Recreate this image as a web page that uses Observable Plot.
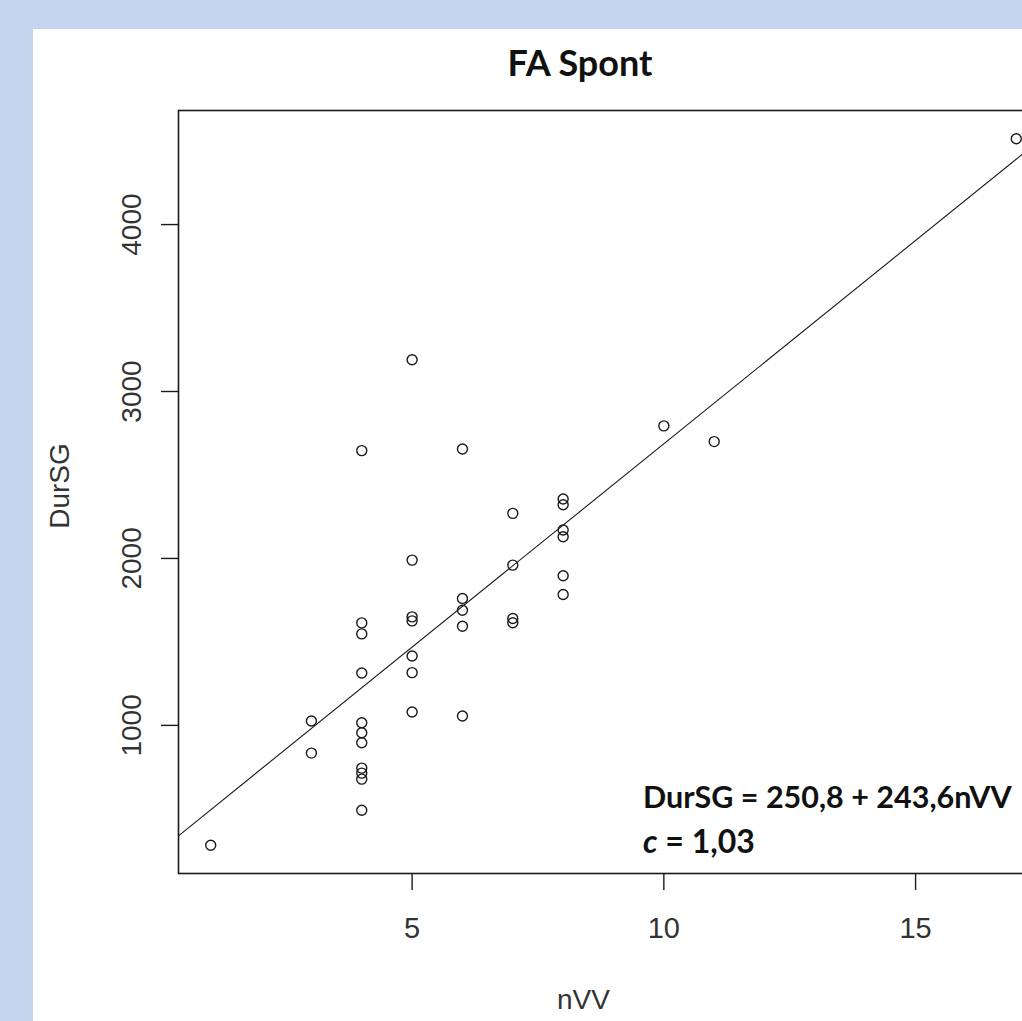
<!DOCTYPE html>
<html>
<head>
<meta charset="utf-8">
<script src="https://cdn.jsdelivr.net/npm/d3@7"></script>
<script src="https://cdn.jsdelivr.net/npm/@observablehq/plot@0.6"></script>
<style>
  html, body { margin: 0; padding: 0; }
  body { width: 1022px; height: 1021px; overflow: hidden; background: #c6d5ee; position: relative; }
  #panel { position: absolute; left: 33px; top: 29px; right: 0; bottom: 0; background: #ffffff; }
  #chart { position: absolute; left: 0; top: 0; width: 1060px; height: 1021px; }
  #title { position: absolute; left: 380px; width: 400px; top: 40px; text-align: center;
           font-family: Lato, "Open Sans", sans-serif; font-weight: bold; font-size: 36px; line-height: 44px; color: #111; }
</style>
</head>
<body>
<div id="panel"></div>
<div id="title">FA Spont</div>
<div id="chart"></div>
<script>
// Data
const nVV = [1, 3, 3,
  4, 4, 4, 4, 4, 4, 4, 4, 4, 4, 4,
  5, 5, 5, 5, 5, 5, 5,
  6, 6, 6, 6, 6,
  7, 7, 7, 7,
  8, 8, 8, 8, 8, 8,
  10, 11, 17];
const DurSG = [282, 1026, 834,
  2646, 1614, 1548, 1314, 1016, 956, 896, 744, 714, 678, 492,
  3190, 1990, 1650, 1626, 1416, 1316, 1080,
  2656, 1760, 1690, 1594, 1056,
  2270, 1960, 1640, 1615,
  2356, 2322, 2170, 2130, 1896, 1784,
  2794, 2700, 4514];
const xTicks = [5, 10, 15];
const yTicks = [1000, 2000, 3000, 4000];
const intercept = 250.8;
const slope = 243.6;
const xLabel = "nVV";
const yLabel = "DurSG";
const eqLine1 = "DurSG = 250,8 + 243,6nVV";
const eqLine2Var = "c";
const eqLine2Rest = " = 1,03";

const points = nVV.map((x, i) => ({x, y: DurSG[i]}));

// R-style 4% axis extension
const xmin = d3.min(nVV), xmax = d3.max(nVV);
const ymin = d3.min(DurSG), ymax = d3.max(DurSG);
const xDom = [xmin - 0.04 * (xmax - xmin), xmax + 0.04 * (xmax - xmin)];
const yDom = [ymin - 0.04 * (ymax - ymin), ymax + 0.04 * (ymax - ymin)];
const fitLine = xDom.map(x => ({x, y: intercept + slope * x}));

const W = 1060, H = 1021;
const mL = 178, mT = 110, mB = H - 873, mR = W - 1048;

const plot = Plot.plot({
  width: W,
  height: H,
  marginLeft: mL,
  marginTop: mT,
  marginBottom: mB,
  marginRight: mR,
  style: {maxWidth: "none", background: "transparent", fontFamily: "'Liberation Sans', Arial, sans-serif", fontSize: "28px", color: "#222", overflow: "visible"},
  x: {domain: xDom},
  y: {domain: yDom},
  marks: [
    Plot.line(fitLine, {x: "x", y: "y", stroke: "#1a1a1a", strokeWidth: 1.1, clip: true}),
    Plot.dot(points, {x: "x", y: "y", r: 5, stroke: "#1a1a1a", strokeWidth: 1.4, fill: "none"}),
    Plot.frame({stroke: "#1a1a1a", strokeWidth: 1.6}),
    Plot.axisX({ticks: xTicks, tickSize: 17, tickPadding: 27, label: null, tickFormat: d => String(d), stroke: "#1a1a1a", strokeWidth: 1.4, fill: "#333", fontSize: 29}),
    Plot.axisY({ticks: yTicks, tickSize: 17, label: null, tickFormat: () => "", stroke: "#1a1a1a", strokeWidth: 1.4}),
    Plot.text(yTicks, {y: d => d, frameAnchor: "left", text: d => String(d), rotate: -90, dx: -38, textAnchor: "middle", lineAnchor: "bottom", fill: "#333", fontSize: 28}),
    Plot.text([yLabel], {frameAnchor: "left", text: d => d, rotate: -90, dx: -110, dy: -6, textAnchor: "middle", lineAnchor: "bottom", fill: "#333", fontSize: 28}),
    Plot.text([xLabel], {frameAnchor: "bottom", text: d => d, dx: -30, dy: 135, textAnchor: "middle", lineAnchor: "bottom", fill: "#333", fontSize: 28})
  ]
});
document.getElementById("chart").appendChild(plot);

// Equation annotation (bold, italic "c"), anchored relative to the frame
const svg = d3.select(plot);
const ann = svg.append("g")
  .attr("font-family", "Lato, 'Open Sans', sans-serif")
  .attr("font-weight", "bold")
  .attr("font-size", 30.5)
  .attr("text-anchor", "start")
  .attr("fill", "#111");
ann.append("text").attr("x", mL + 465).attr("y", H - mB - 65).attr("text-anchor", "start").text(eqLine1);
const t2 = ann.append("text").attr("x", mL + 465).attr("y", H - mB - 20).attr("text-anchor", "start").attr("font-size", 32);
t2.append("tspan").attr("font-style", "italic").text(eqLine2Var);
t2.append("tspan").text(eqLine2Rest);
</script>
</body>
</html>
